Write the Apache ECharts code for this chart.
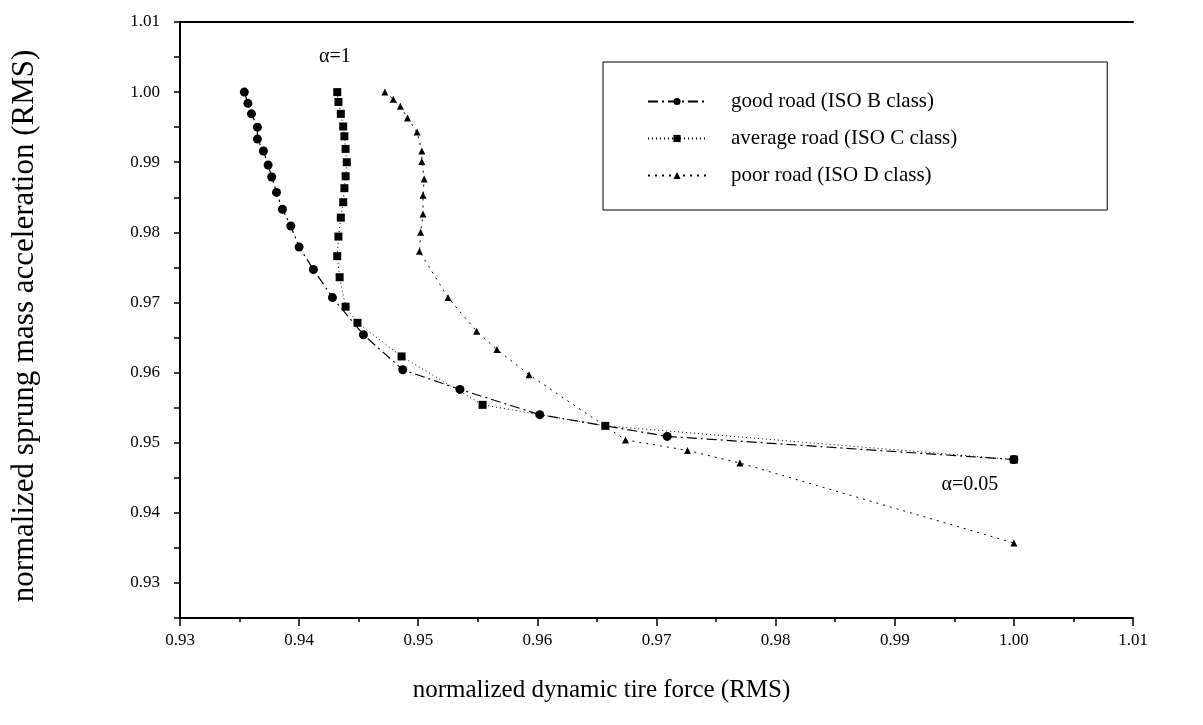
<!DOCTYPE html>
<html>
<head>
<meta charset="utf-8">
<title>normalized acceleration vs tire force</title>
<script src="https://cdn.jsdelivr.net/npm/echarts@6/dist/echarts.min.js"></script>
<style>
  html, body { margin: 0; padding: 0; background: #fff; }
  #main { width: 1203px; height: 725px; }
</style>
</head>
<body>
<div id="main"></div>
<script>
// x = normalized dynamic tire force (RMS), y = normalized sprung mass acceleration (RMS)
// one point per alpha step, alpha = 1 (top) down to 0.05 (x = 1.00)
const goodRoadX = [0.9354, 0.9357, 0.9360, 0.9365, 0.9365, 0.9370, 0.9374, 0.9377, 0.9381, 0.9386,
  0.9393, 0.9400, 0.9412, 0.9428, 0.9454, 0.9487, 0.9535, 0.9602, 0.9709, 1.0000];
const goodRoadY = [1.0000, 0.9984, 0.9969, 0.9950, 0.9933, 0.9916, 0.9896, 0.9879, 0.9857, 0.9833,
  0.9809, 0.9779, 0.9747, 0.9707, 0.9654, 0.9604, 0.9576, 0.9540, 0.9509, 0.9476];

const avgRoadX = [0.9432, 0.9433, 0.9435, 0.9437, 0.9438, 0.9439, 0.9440, 0.9439, 0.9438, 0.9437,
  0.9435, 0.9433, 0.9432, 0.9434, 0.9439, 0.9449, 0.9486, 0.9554, 0.9657, 1.0000];
const avgRoadY = [1.0000, 0.9986, 0.9969, 0.9951, 0.9937, 0.9919, 0.9900, 0.9880, 0.9863, 0.9843,
  0.9821, 0.9794, 0.9766, 0.9736, 0.9694, 0.9671, 0.9623, 0.9554, 0.9524, 0.9476];

const poorRoadX = [0.9472, 0.9479, 0.9485, 0.9491, 0.9499, 0.9503, 0.9503, 0.9505, 0.9504, 0.9504,
  0.9502, 0.9501, 0.9525, 0.9549, 0.9566, 0.9593, 0.9674, 0.9726, 0.9770, 1.0000];
const poorRoadY = [1.0000, 0.9990, 0.9980, 0.9963, 0.9943, 0.9916, 0.9901, 0.9876, 0.9853, 0.9826,
  0.9800, 0.9773, 0.9707, 0.9659, 0.9633, 0.9597, 0.9504, 0.9489, 0.9471, 0.9357];

const seriesNames = ['good road (ISO B class)', 'average road (ISO C class)', 'poor road (ISO D class)'];

// text annotations placed at data coordinates
const alphaNotes = [
  { text: 'α=1', x: 0.9430, y: 1.0050 },
  { text: 'α=0.05', x: 0.9963, y: 0.9440 },
];

const pair = (xs, ys) => xs.map((x, i) => [x, ys[i]]);

const font = '"Liberation Serif", "DejaVu Serif", serif';

const chart = echarts.init(document.getElementById('main'));

const option = {
  backgroundColor: '#fff',
  animation: false,
  textStyle: { fontFamily: font, color: '#000' },
  grid: { left: 180, right: 70, top: 22, bottom: 107 },
  legend: {
    orient: 'vertical',
    left: 603,
    top: 62,
    padding: [29, 150, 24, 44],
    itemGap: 16,
    itemWidth: 58,
    itemHeight: 9,
    borderColor: '#000',
    borderWidth: 1,
    textStyle: { fontFamily: font, fontSize: 21, color: '#000', padding: [0, 0, 0, 20] },
    data: seriesNames,
  },
  xAxis: [
    {
      type: 'value',
      min: 0.93,
      max: 1.01,
      interval: 0.01,
      name: 'normalized dynamic tire force (RMS)',
      nameLocation: 'middle',
      nameGap: 60,
      nameTextStyle: { fontFamily: font, fontSize: 25, color: '#000', padding: [0, 110, 0, 0] },
      axisLine: { onZero: false, lineStyle: { color: '#000', width: 2 } },
      axisTick: { inside: false, length: 8, lineStyle: { color: '#000', width: 1.5 } },
      minorTick: { show: true, splitNumber: 2, length: 4, lineStyle: { color: '#000', width: 1.5 } },
      axisLabel: { fontFamily: font, fontSize: 17, color: '#000', margin: 14,
        formatter: (v) => v.toFixed(2) },
      splitLine: { show: false },
    },
    {
      // top frame line
      type: 'value',
      position: 'top',
      min: 0.93,
      max: 1.01,
      axisLine: { onZero: false, lineStyle: { color: '#000', width: 2 } },
      axisTick: { show: false },
      axisLabel: { show: false },
      splitLine: { show: false },
    },
  ],
  yAxis: {
    type: 'value',
    min: 0.925,
    max: 1.01,
    interval: 0.005,
    name: 'normalized sprung mass acceleration (RMS)',
    nameLocation: 'middle',
    nameGap: 140,
    nameTextStyle: { fontFamily: font, fontSize: 31, color: '#000', padding: [0, 12, 0, 0] },
    axisLine: { onZero: false, lineStyle: { color: '#000', width: 2 } },
    axisTick: { inside: false, length: 6, lineStyle: { color: '#000', width: 1.5 } },
    axisLabel: {
      fontFamily: font, fontSize: 17, color: '#000', margin: 20,
      formatter: (v) => (Math.round(v * 1000) % 10 === 0 ? v.toFixed(2) : ''),
    },
    splitLine: { show: false },
  },
  series: [
    {
      name: seriesNames[0],
      type: 'line',
      data: pair(goodRoadX, goodRoadY),
      symbol: 'circle',
      symbolSize: 9,
      itemStyle: { color: '#000' },
      lineStyle: { color: '#000', width: 1.2, type: [10, 4, 2, 4] },
      markPoint: {
        symbol: 'circle',
        symbolSize: 0,
        label: { show: true, position: 'inside', fontFamily: font, fontSize: 20, color: '#000',
          formatter: (p) => p.name },
        data: alphaNotes.map((n) => ({ name: n.text, coord: [n.x, n.y] })),
      },
    },
    {
      name: seriesNames[1],
      type: 'line',
      data: pair(avgRoadX, avgRoadY),
      symbol: 'rect',
      symbolSize: 8,
      itemStyle: { color: '#000' },
      lineStyle: { color: '#000', width: 1, type: [1, 3] },
    },
    {
      name: seriesNames[2],
      type: 'line',
      data: pair(poorRoadX, poorRoadY),
      symbol: 'triangle',
      symbolSize: 7,
      itemStyle: { color: '#000' },
      lineStyle: { color: '#000', width: 1, type: [2, 5] },
    },
  ],
};

chart.setOption(option);
</script>
</body>
</html>
